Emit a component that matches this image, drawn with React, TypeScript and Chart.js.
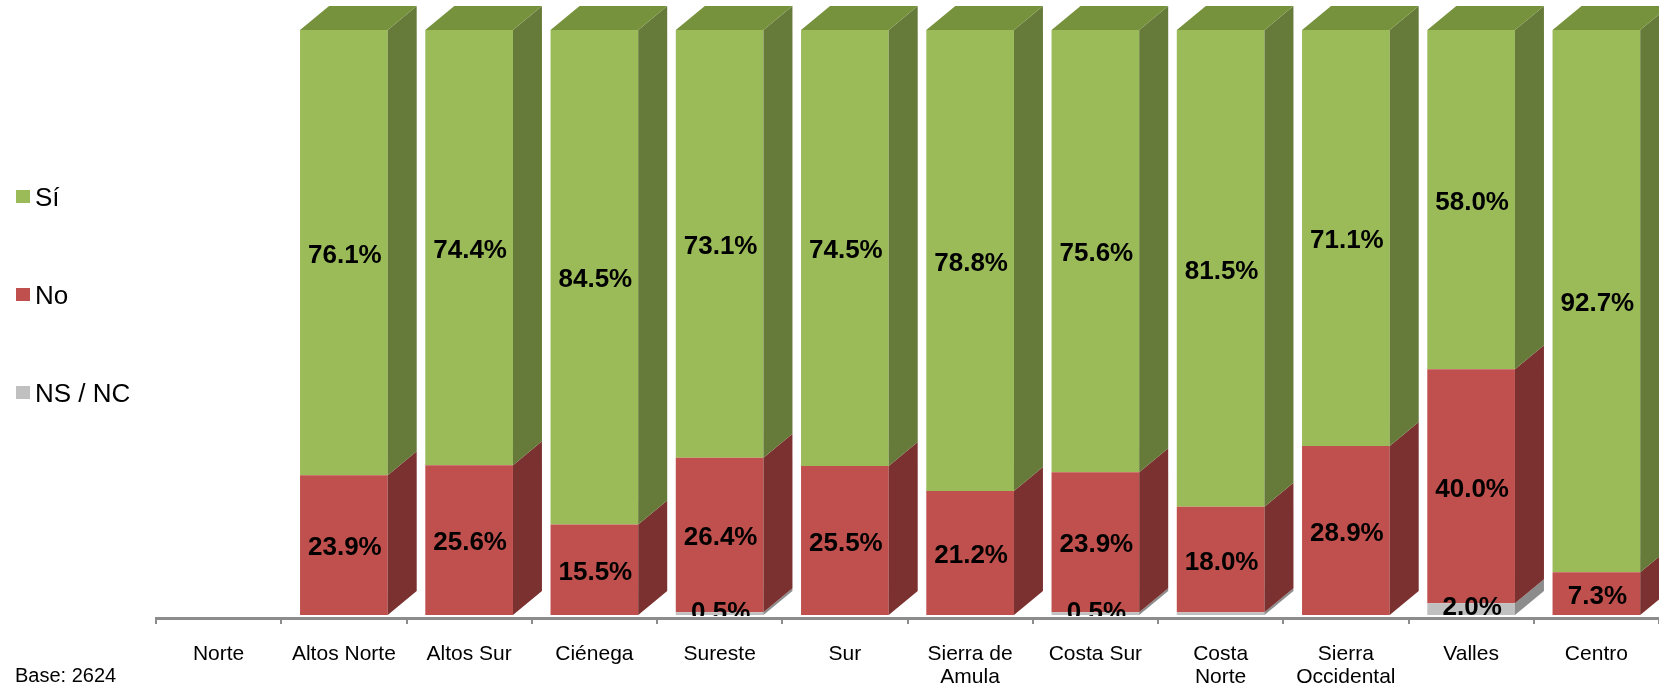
import React, { useEffect, useRef } from "react";
import { Chart, registerables } from "chart.js";

Chart.register(...registerables);

const categories: (string | string[])[] = [
  "Norte",
  "Altos Norte",
  "Altos Sur",
  "Ciénega",
  "Sureste",
  "Sur",
  ["Sierra de", "Amula"],
  "Costa Sur",
  ["Costa", "Norte"],
  ["Sierra", "Occidental"],
  "Valles",
  "Centro",
];

const siValues = [0, 76.1, 74.4, 84.5, 73.1, 74.5, 78.8, 75.6, 81.5, 71.1, 58.0, 92.7];
const noValues = [0, 23.9, 25.6, 15.5, 26.4, 25.5, 21.2, 23.9, 18.0, 28.9, 40.0, 7.3];
const nsncValues = [0, 0, 0, 0, 0.5, 0, 0, 0.5, 0.5, 0, 2.0, 0];
const nsncLabelShown = [false, false, false, false, true, false, false, true, false, false, true, false];

const seriesNames = ["Sí", "No", "NS / NC"];
const baseText = "Base: 2624";

const FONT = '"Liberation Sans", Arial, Helvetica, sans-serif';

const COLORS = {
  si: { front: "#9BBB59", side: "#667A3A", top: "#77923C" },
  no: { front: "#C0504D", side: "#7A3130", top: "#96403D" },
  ns: { front: "#C0C0C0", side: "#8C8C8C", top: "#A5A5A5" },
};

const DEPTH_X = 29;
const DEPTH_Y = 24;

export default function App() {
  const canvasRef = useRef<HTMLCanvasElement | null>(null);

  useEffect(() => {
    document.body.style.margin = "0";
    const canvas = canvasRef.current;
    if (!canvas) return;

    const palette = [COLORS.ns, COLORS.no, COLORS.si];
    const showLabel = (d: number, i: number) => (d === 0 ? nsncLabelShown[i] : true);

    const plugin3d = {
      id: "bars3d",
      afterDatasetsDraw(chart: any) {
        const ctx = chart.ctx;
        const ds = chart.data.datasets;
        const n = categories.length;
        ctx.save();
        for (let i = 0; i < n; i++) {
          let topEl: any = null;
          let topD = -1;
          for (let d = 0; d < ds.length; d++) {
            const v = ds[d].data[i];
            if (!(v > 0)) continue;
            const el = chart.getDatasetMeta(d).data[i];
            const p = el.getProps(["x", "y", "base", "width"], true);
            const right = p.x + p.width / 2;
            ctx.fillStyle = palette[d].side;
            ctx.beginPath();
            ctx.moveTo(right, p.y);
            ctx.lineTo(right + DEPTH_X, p.y - DEPTH_Y);
            ctx.lineTo(right + DEPTH_X, p.base - DEPTH_Y);
            ctx.lineTo(right, p.base);
            ctx.closePath();
            ctx.fill();
            topEl = p;
            topD = d;
          }
          if (topEl) {
            const left = topEl.x - topEl.width / 2;
            const right = topEl.x + topEl.width / 2;
            ctx.fillStyle = palette[topD].top;
            ctx.beginPath();
            ctx.moveTo(left, topEl.y);
            ctx.lineTo(left + DEPTH_X, topEl.y - DEPTH_Y);
            ctx.lineTo(right + DEPTH_X, topEl.y - DEPTH_Y);
            ctx.lineTo(right, topEl.y);
            ctx.closePath();
            ctx.fill();
          }
        }
        ctx.restore();

        // data labels
        ctx.save();
        ctx.beginPath();
        ctx.rect(0, 0, chart.width, chart.chartArea.bottom - 2);
        ctx.clip();
        ctx.fillStyle = "#000";
        ctx.font = `bold 26px ${FONT}`;
        ctx.textAlign = "center";
        ctx.textBaseline = "middle";
        for (let d = 0; d < ds.length; d++) {
          for (let i = 0; i < n; i++) {
            const v = ds[d].data[i];
            if (!(v > 0) || !showLabel(d, i)) continue;
            const el = chart.getDatasetMeta(d).data[i];
            const p = el.getProps(["x", "y", "base"], true);
            const dy = d === 0 ? -1 : 3;
            ctx.fillText(v.toFixed(1) + "%", p.x + 1, (p.y + p.base) / 2 + dy);
          }
        }
        ctx.restore();
      },
      afterDraw(chart: any) {
        const ctx = chart.ctx;
        ctx.save();
        // legend
        const legendColors = [COLORS.si.front, COLORS.no.front, COLORS.ns.front];
        const baselines = [206, 304, 402];
        ctx.font = `26px ${FONT}`;
        ctx.textAlign = "left";
        ctx.textBaseline = "alphabetic";
        seriesNames.forEach((name, k) => {
          ctx.fillStyle = legendColors[k];
          ctx.fillRect(16, baselines[k] - 16, 14, 13);
          ctx.fillStyle = "#000";
          ctx.fillText(name, 35, baselines[k]);
        });
        // base text
        ctx.font = `20px ${FONT}`;
        ctx.fillText(baseText, 15, 682);
        ctx.restore();
      },
    };

    const chart = new Chart(canvas, {
      type: "bar",
      data: {
        labels: categories,
        datasets: [
          { label: seriesNames[2], data: nsncValues, backgroundColor: COLORS.ns.front, borderWidth: 0 },
          { label: seriesNames[1], data: noValues, backgroundColor: COLORS.no.front, borderWidth: 0 },
          { label: seriesNames[0], data: siValues, backgroundColor: COLORS.si.front, borderWidth: 0 },
        ],
      },
      options: {
        responsive: false,
        animation: false,
        devicePixelRatio: 1,
        layout: { padding: { left: 156, top: 30, right: 0, bottom: 0 } },
        datasets: { bar: { categoryPercentage: 1, barPercentage: 0.7 } },
        plugins: { legend: { display: false }, tooltip: { enabled: false } },
        scales: {
          x: {
            stacked: true,
            offset: true,
            grid: {
              display: true,
              offset: true,
              drawOnChartArea: false,
              drawTicks: true,
              tickLength: 6,
              color: "#8C8C8C",
              lineWidth: 2,
            },
            border: { display: true, color: "#8C8C8C", width: 3 },
            ticks: {
              color: "#000",
              font: { family: FONT, size: 21, lineHeight: 1.1 },
              padding: 19,
              maxRotation: 0,
              autoSkip: false,
            },
            afterFit(scale: any) {
              scale.height = 73;
            },
          },
          y: { stacked: true, display: false, min: -0.5, max: 100 },
        },
      },
      plugins: [plugin3d],
    } as any);

    return () => chart.destroy();
  }, []);

  return (
    <div style={{ width: 1659, height: 691, position: "relative", background: "#fff" }}>
      <canvas ref={canvasRef} width={1659} height={691} style={{ display: "block" }} />
    </div>
  );
}
